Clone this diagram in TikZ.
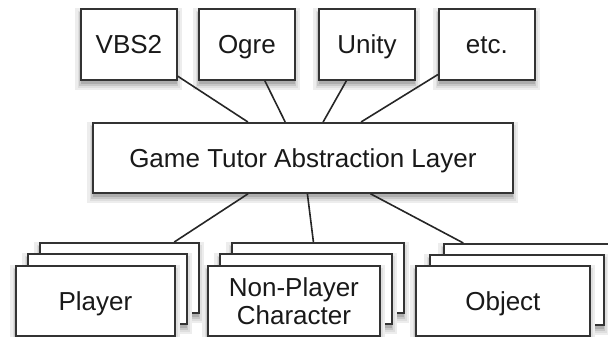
\documentclass[tikz,border=0pt]{standalone}
\usepackage{fontspec}
\setmainfont{Liberation Sans}
\begin{document}
\begin{tikzpicture}[x=1pt,y=-1pt,
  shade1/.style={preaction={fill=black!7, draw=black!7, line width=11pt, rounded corners=5pt, transform canvas={yshift=-5pt}}},
  shade2/.style={preaction={fill=black!13, draw=black!13, line width=6.5pt, rounded corners=3pt, transform canvas={yshift=-5pt}}},
  shade3/.style={preaction={fill=black!22, draw=black!22, line width=3pt, transform canvas={yshift=-4.5pt}}},
  shade4/.style={preaction={fill=black!32, transform canvas={yshift=-4pt}}},
  box/.style={shade1, shade2, shade3, shade4, draw=black!80, line width=1.8pt, fill=white, rectangle, inner sep=0pt,
    anchor=north west, align=center, font=\fontsize{26}{28}\selectfont, text=black!90},
  one/.style={text height=18.5pt, text depth=0pt},
  topbox/.style={box, one, minimum width=96pt, minimum height=71pt},
  botbox/.style={box, minimum height=70pt},
  conn/.style={draw=black!85, line width=1.6pt}]
\useasboundingbox (0,0) rectangle (608,337);
% top row
\node[topbox] (vbs) at (80,8) {VBS2};
\node[topbox] (ogre) at (198,8) {Ogre};
\node[topbox] (unity) at (318,8) {Unity};
\node[topbox] (etc) at (438,8) {etc.};
% middle
\node[box, one, minimum width=420pt, minimum height=70pt] (gal) at (92,122) {Game Tutor Abstraction Layer};
% player stack
\node[botbox, minimum width=159pt] (p3) at (39,242) {};
\node[botbox, minimum width=159pt] (p2) at (27,253) {};
\node[botbox, one, minimum width=159pt] (p1) at (15,265) {Player};
% npc stack
\node[botbox, minimum width=172pt] (n3) at (231,242) {};
\node[botbox, minimum width=172pt] (n2) at (219,253) {};
\node[botbox, minimum width=172pt] (n1) at (207,265) {Non-Player\\Character};
% object stack
\node[botbox, minimum width=174pt] (o3) at (443,243) {};
\node[botbox, minimum width=174pt] (o2) at (429,254) {};
\node[botbox, one, minimum width=174pt] (o1) at (415,265) {Object};
% connectors
\draw[conn] (vbs) -- (gal);
\draw[conn] (ogre) -- (gal);
\draw[conn] (unity) -- (gal);
\draw[conn] (etc) -- (gal);
\draw[conn] (gal) -- (p3);
\draw[conn] (gal) -- (n3);
\draw[conn] (gal) -- (o3);
\end{tikzpicture}
\end{document}
